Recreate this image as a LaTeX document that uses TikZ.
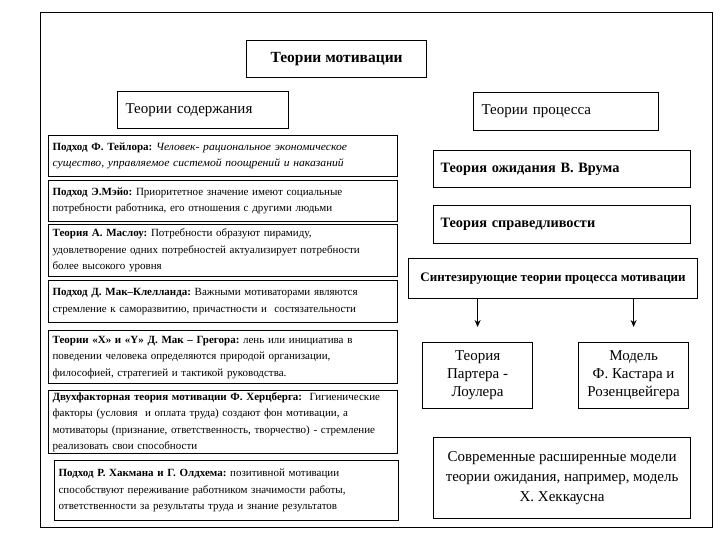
\documentclass[tikz,border=0pt]{standalone}
\usepackage{fontspec}
\setmainfont{Liberation Serif}
\newfontfamily\leftfont{Liberation Serif}[ItalicFeatures={FakeStretch=1.06}]
\usetikzlibrary{arrows.meta, positioning}

\begin{document}
\frenchspacing
\begin{tikzpicture}[
  x=1pt, y=-1pt,
  box/.style={draw, line width=1.2pt, anchor=north west,
              inner xsep=4pt, inner ysep=0pt},
  theory/.style={box, minimum width=349pt, text width=341pt,
                 align=left, font=\leftfont\fontsize{11}{16.5}\selectfont},
  head/.style={box, font=\fontsize{15}{17}\selectfont},
  proc/.style={box, font=\bfseries\fontsize{14.3}{17}\selectfont},
  model/.style={box, align=center, font=\fontsize{15}{18}\selectfont},
  >={Stealth[length=7pt, width=6pt]}
]
  \useasboundingbox (0,0) rectangle (720,540);
  \node[draw, line width=1.2pt, anchor=north west, inner sep=0pt,
        minimum width=672pt, minimum height=515pt] (frame) at (40,12) {};

  % headers
  \node[head, font=\bfseries\fontsize{15.5}{17}\selectfont,
        minimum width=180pt, minimum height=37pt] (motiv) at (246,40) {Теории мотивации};
  \node[head, minimum height=37pt, text width=155pt, inner xsep=8pt,
        align=left] (content) at (117,91) {Теории содержания};
  \node[head, minimum height=38pt, text width=169pt, inner xsep=8pt,
        align=left] (process) at (473,92) {Теории процесса};

  % content theories
  \node[theory, minimum height=41pt] (taylor) at (48,135)
    {\textbf{Подход Ф. Тейлора:} \textit{Человек- рациональное экономическое}\\
     \textit{существо, управляемое системой поощрений и наказаний}};
  \node[theory, minimum height=41pt] (mayo) at (48,180)
    {\textbf{Подход Э.Мэйо:} Приоритетное значение имеют социальные\\
     потребности работника, его отношения с другими людьми};
  \node[theory, minimum height=52pt] (maslow) at (48,224)
    {\textbf{Теория А. Маслоу:} Потребности образуют пирамиду,\\
     удовлетворение одних потребностей актуализирует потребности\\
     более высокого уровня};
  \node[theory, minimum height=42pt] (mcclelland) at (48,280)
    {\textbf{Подход Д. Мак–Клелланда:} Важными мотиваторами являются\\
     стремление к саморазвитию, причастности и~~состязательности};
  \node[theory, minimum height=53pt] (mcgregor) at (48,330)
    {\textbf{Теории «Х» и «Y» Д. Мак – Грегора:} лень или инициатива в\\
     поведении человека определяются природой организации,\\
     философией, стратегией и тактикой руководства.};
  \node[theory, minimum height=63pt] (herzberg) at (48,390)
    {\textbf{Двухфакторная теория мотивации Ф. Херцберга:}~~Гигиенические\\
     факторы (условия~~и оплата труда) создают фон мотивации, а\\
     мотиваторы (признание, ответственность, творчество) - стремление\\
     реализовать свои способности};
  \node[theory, minimum width=344pt, text width=336pt,
        minimum height=60pt] (hackman) at (54,460)
    {\textbf{Подход Р. Хакмана и Г. Олдхема:} позитивной мотивации\\
     способствуют переживание работником значимости работы,\\
     ответственности за результаты труда и знание результатов};

  % process theories
  \node[proc, minimum height=37pt, text width=243pt, inner xsep=7pt,
        align=left] (vroom) at (433,150) {Теория ожидания В. Врума};
  \node[proc, minimum height=38pt, text width=243pt, inner xsep=7pt,
        align=left] (justice) at (433,205) {Теория справедливости};
  \node[proc, font=\bfseries\fontsize{13}{15}\selectfont,
        minimum width=289pt, minimum height=40pt] (synth) at (408,258)
    {Синтезирующие теории процесса мотивации};
  \node[model, minimum width=110pt, minimum height=66pt] (porter) at (422,342)
    {Теория\\Партера -\\Лоулера};
  \node[model, minimum width=110pt, minimum height=66pt] (kastar) at (578,342)
    {Модель\\ Ф. Кастара и\\Розенцвейгера};
  \node[model, font=\fontsize{15}{20}\selectfont,
        minimum width=257pt, minimum height=81pt] (modern) at (433,437)
    {Современные расширенные модели\\теории ожидания, например, модель\\Х. Хеккаусна};

  \draw[->, line width=1.2pt, shorten >=15pt]
    (synth.south -| porter.north) -- (porter.north);
  \draw[->, line width=1.2pt, shorten >=15pt]
    (synth.south -| kastar.north) -- (kastar.north);
\end{tikzpicture}
\end{document}
